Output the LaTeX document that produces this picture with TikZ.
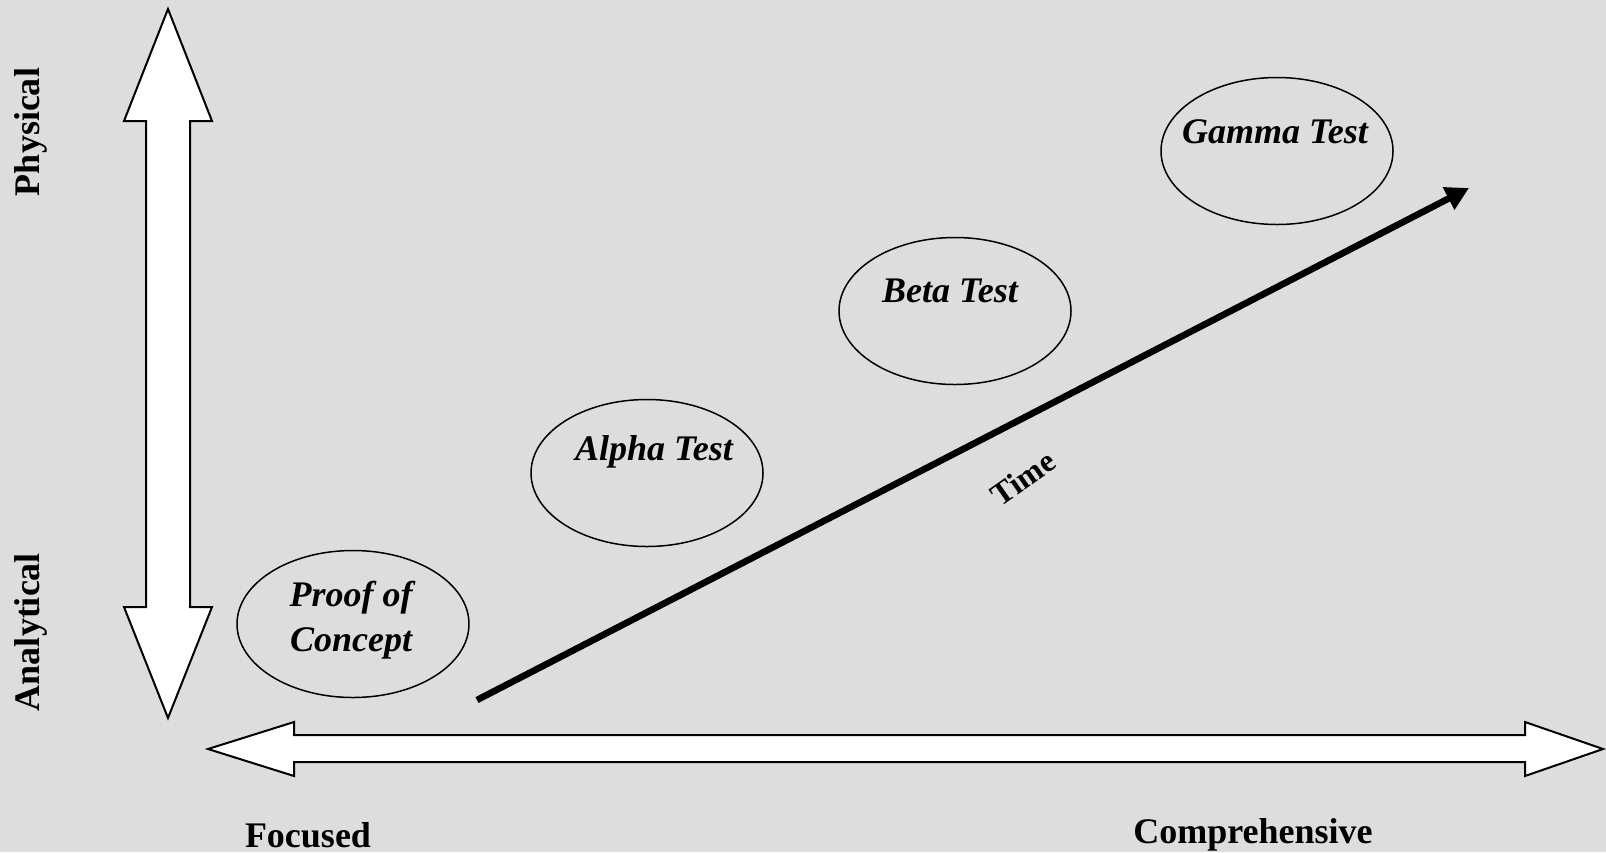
\documentclass[tikz,border=0pt]{standalone}
\usepackage{fontspec}
\setmainfont{Liberation Serif}
\usetikzlibrary{shapes.geometric,arrows.meta}
\definecolor{bggray}{RGB}{221,221,221}

\begin{document}
\begin{tikzpicture}[x=.5pt,y=-.5pt,
   stage/.style={draw, ellipse, line width=.75pt, minimum width=116pt, minimum height=73.5pt},
   stagetext/.style={font=\fontsize{18}{22.5}\selectfont\bfseries\itshape, align=center},
   axislabel/.style={font=\fontsize{18}{21}\selectfont\bfseries},
   blockarrow/.style={draw, fill=white, line width=1pt, line join=miter}]
   \fill[bggray] (0,0) rectangle (1606,852);
   \useasboundingbox (0,0) rectangle (1606,852);

   % big arrows
   \draw[blockarrow] (168,9) -- (212,121) -- (190,121) -- (190,607) -- (212,607) -- (168,718)
      -- (124,607) -- (146,607) -- (146,121) -- (124,121) -- cycle;
   \draw[blockarrow] (208,749) -- (294,722) -- (294,735) -- (1525,735) -- (1525,722) -- (1603,749)
      -- (1525,776) -- (1525,762) -- (294,762) -- (294,776) -- cycle;

   \node[axislabel, rotate=90] (phys) at (31,132) {Physical};
   \node[axislabel, rotate=90] (anal) at (31,632) {Analytical};
   \node[axislabel] (foc) at (308,835) {Focused};
   \node[axislabel] (comp) at (1253,835) {Comprehensive};

   % stages
   \node[stage] (proof) at (353,624) {};
   \node[stage] (alpha) at (647,473) {};
   \node[stage] (beta) at (955,311) {};
   \node[stage] (gamma) at (1277,151) {};
   \node[stagetext] (prooft) at (351,620) {Proof of\\Concept};
   \node[stagetext] (alphat) at (654,452) {Alpha Test};
   \node[stagetext] (betat) at (950,291) {Beta Test};
   \node[stagetext] (gammat) at (1275,132) {Gamma Test};

   % time
   \coordinate (t0) at (477,700);
   \coordinate (t1) at (1469,188);
   \draw[line width=3.3pt, -{Triangle[length=11.5pt,width=12pt]}] (t0) -- (t1);
   \node[font=\fontsize{16}{18}\selectfont\bfseries, rotate=35] (time) at (1023,478) {Time};

\end{tikzpicture}
\end{document}
